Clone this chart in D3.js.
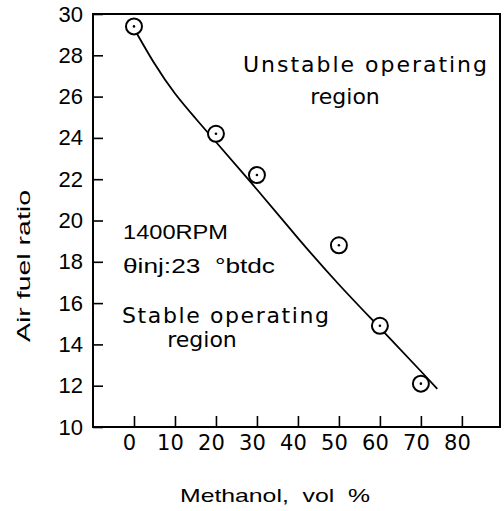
<!DOCTYPE html>
<html>
<head>
<meta charset="utf-8">
<script src="https://cdn.jsdelivr.net/npm/d3@7"></script>
<style>
  body { margin: 0; background: #fff; }
  text { fill: #000; white-space: pre; }
</style>
</head>
<body>
<div id="viz"></div>
<script>
// measured points (methanol %, air fuel ratio)
var methanol = [0, 20, 30, 50, 60, 70];
var afr = [29.4, 24.2, 22.2, 18.8, 14.9, 12.1];

// fitted curve
var curveX = [0, 5, 10, 15, 20, 30, 40, 50, 60, 70, 74];
var curveY = [29.3, 27.6, 26.15, 24.95, 23.8, 21.5, 19.15, 16.9, 14.8, 12.7, 11.85];

var xTicks = [0, 10, 20, 30, 40, 50, 60, 70, 80];
var yTicks = [10, 12, 14, 16, 18, 20, 22, 24, 26, 28, 30];

var margin = { top: 14, right: 4, bottom: 84, left: 93 },
  width = 504 - margin.left - margin.right,
  height = 511 - margin.top - margin.bottom;

var x = d3.scaleLinear().domain([-10, 89.3]).range([0, width]);
var y = d3.scaleLinear().domain([10, 30]).range([height, 0]);

var svg = d3.select("#viz").append("svg")
  .attr("width", 504)
  .attr("height", 511)
  .style("font-family", "'Liberation Sans', Arial, sans-serif");

var g = svg.append("g")
  .attr("transform", "translate(" + margin.left + "," + margin.top + ")");

// x axis, ticks pointing inward
var xAxis = g.append("g")
  .attr("transform", "translate(0," + height + ")")
  .call(d3.axisBottom(x).tickValues(xTicks).tickSize(-11).tickPadding(8));
xAxis.select(".domain").remove();
xAxis.selectAll("line").attr("stroke", "#000").attr("stroke-width", 1.6);
xAxis.selectAll("text").attr("dx", -5)
  .attr("font-family", "'DejaVu Sans', sans-serif").attr("font-size", 21);

// y axis
var yAxis = g.append("g")
  .call(d3.axisLeft(y).tickValues(yTicks).tickSize(-10).tickPadding(10));
yAxis.select(".domain").remove();
yAxis.selectAll("line").attr("stroke", "#000").attr("stroke-width", 1.6);
yAxis.selectAll("text").attr("font-size", 22);

// frame
g.append("rect")
  .attr("width", width)
  .attr("height", height)
  .attr("fill", "none")
  .attr("stroke", "#000")
  .attr("stroke-width", 2);

// fitted line
var line = d3.line()
  .x(function (d) { return x(d[0]); })
  .y(function (d) { return y(d[1]); })
  .curve(d3.curveNatural);

g.append("path")
  .datum(d3.zip(curveX, curveY))
  .attr("d", line)
  .attr("fill", "none")
  .attr("stroke", "#000")
  .attr("stroke-width", 1.8);

// markers: open circle with centre dot
var pts = g.selectAll(".pt")
  .data(d3.zip(methanol, afr))
  .enter().append("g")
  .attr("class", "pt")
  .attr("transform", function (d) { return "translate(" + x(d[0]) + "," + y(d[1]) + ")"; });
pts.append("circle").attr("r", 8).attr("fill", "#fff").attr("stroke", "#000").attr("stroke-width", 2);
pts.append("circle").attr("r", 1.3).attr("fill", "#000");

// region labels
var round = "'DejaVu Sans', sans-serif";
svg.append("text").attr("x", 243).attr("y", 72).attr("font-size", 22)
  .attr("font-family", round).attr("textLength", 244).attr("lengthAdjust", "spacing")
  .text("Unstable operating");
svg.append("text").attr("x", 345).attr("y", 104).attr("font-size", 22)
  .attr("font-family", round).attr("text-anchor", "middle")
  .text("region");
svg.append("text").attr("x", 122).attr("y", 323).attr("font-size", 22)
  .attr("font-family", round).attr("textLength", 207).attr("lengthAdjust", "spacing")
  .text("Stable operating");
svg.append("text").attr("x", 202).attr("y", 347).attr("font-size", 22)
  .attr("font-family", round).attr("text-anchor", "middle")
  .text("region");

svg.append("text").attr("x", 123).attr("y", 239).attr("font-size", 21)
  .attr("textLength", 105).attr("lengthAdjust", "spacingAndGlyphs")
  .text("1400RPM");
svg.append("text").attr("x", 123).attr("y", 273).attr("font-size", 21)
  .attr("textLength", 152).attr("lengthAdjust", "spacingAndGlyphs")
  .text("\u03b8inj:23  \u00b0btdc");

// axis titles
svg.append("text")
  .attr("transform", "translate(30,266) rotate(-90)")
  .attr("text-anchor", "middle")
  .attr("font-size", 19)
  .attr("textLength", 152).attr("lengthAdjust", "spacingAndGlyphs")
  .text("Air fuel ratio");
svg.append("text")
  .attr("x", 275).attr("y", 502)
  .attr("text-anchor", "middle")
  .attr("font-size", 19)
  .attr("textLength", 190).attr("lengthAdjust", "spacingAndGlyphs")
  .text("Methanol,  vol  %");
</script>
</body>
</html>
